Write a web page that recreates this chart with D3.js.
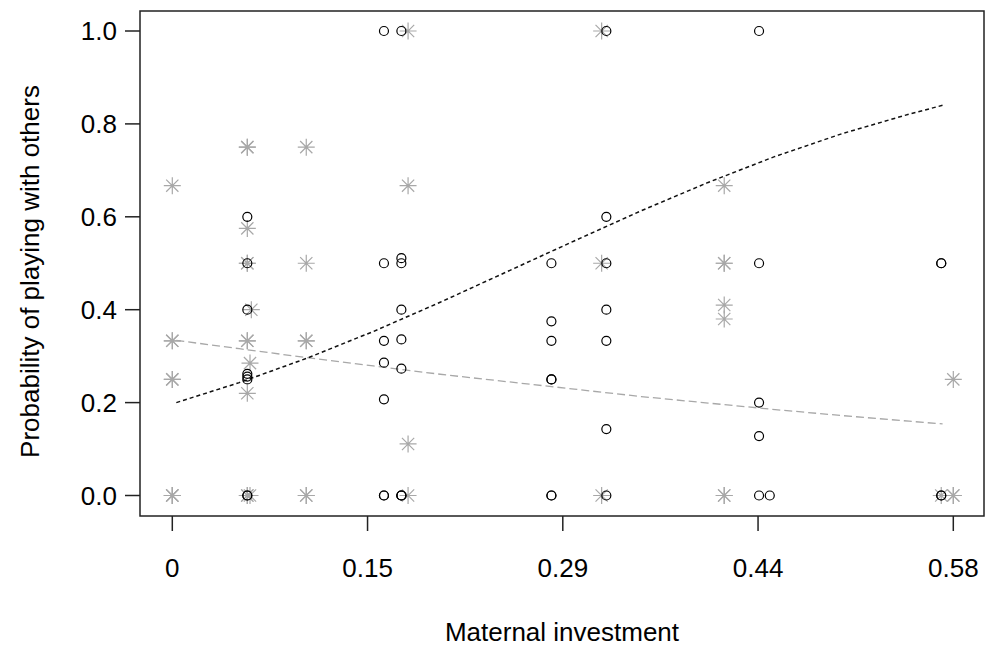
<!DOCTYPE html>
<html>
<head>
<meta charset="utf-8">
<script src="https://cdn.jsdelivr.net/npm/d3@7"></script>
<style>
  body { margin: 0; background: #fff; }
  text { font-family: "Liberation Sans", Arial, sans-serif; fill: #000; }
</style>
</head>
<body>
<div id="container"></div>
<script>
var w = 990
var h = 646

// circles (black, open)
var circleX = [0.056, 0.056, 0.056, 0.056, 0.056, 0.056, 0.056, 0.056,
    0.158, 0.158, 0.158, 0.158, 0.158, 0.158, 0.158,
    0.171, 0.171, 0.171, 0.171, 0.171, 0.171, 0.171, 0.171, 0.171,
    0.283, 0.283, 0.283, 0.283, 0.283, 0.283, 0.283,
    0.324, 0.324, 0.324, 0.324, 0.324, 0.324, 0.324,
    0.438, 0.438, 0.438, 0.438, 0.438, 0.446,
    0.574, 0.574, 0.574, 0.574]
var circleY = [0.6, 0.5, 0.4, 0.25, 0.256, 0.262, 0, 0,
    1, 0.5, 0.333, 0.286, 0.207, 0, 0,
    1, 0.5, 0.511, 0.4, 0.336, 0.273, 0, 0, 0,
    0.5, 0.375, 0.333, 0.25, 0.25, 0, 0,
    1, 0.6, 0.5, 0.4, 0.333, 0.143, 0,
    1, 0.5, 0.2, 0.128, 0, 0,
    0.5, 0.5, 0, 0]

// asterisks (grey)
var starX = [0, 0, 0, 0, 0, 0, 0, 0,
    0.056, 0.056, 0.056, 0.056, 0.056, 0.056, 0.056, 0.056, 0.056, 0.056,
    0.058, 0.058, 0.059,
    0.100, 0.100, 0.100, 0.100, 0.100, 0.100,
    0.176, 0.176, 0.176, 0.176,
    0.3205, 0.3205, 0.3205,
    0.412, 0.412, 0.412, 0.412, 0.412, 0.412, 0.412,
    0.574, 0.583, 0.583, 0.583]
var starY = [0.667, 0.333, 0.333, 0.25, 0.25, 0, 0, 0,
    0.75, 0.75, 0.575, 0.5, 0.5, 0.333, 0.333, 0.22, 0, 0,
    0.285, 0, 0.4,
    0.75, 0.5, 0.333, 0.333, 0, 0,
    1, 0.667, 0.111, 0,
    1, 0.5, 0,
    0.667, 0.5, 0.5, 0.41, 0.38, 0, 0,
    0, 0.25, 0, 0]

// fitted curves
var curveX = [0.003, 0.05, 0.1, 0.15, 0.2, 0.25, 0.3, 0.35, 0.4, 0.45, 0.5, 0.55, 0.575]
var fitBlack = [0.200, 0.243, 0.295, 0.353, 0.416, 0.482, 0.548, 0.613, 0.674, 0.730, 0.779, 0.821, 0.840]
var fitGrey = [0.334, 0.316, 0.297, 0.279, 0.261, 0.245, 0.229, 0.213, 0.199, 0.185, 0.172, 0.160, 0.154]

var xTicks = [0, 0.14575, 0.2915, 0.43725, 0.583]
var xTickLabels = ["0", "0.15", "0.29", "0.44", "0.58"]
var yTicks = [0, 0.2, 0.4, 0.6, 0.8, 1]
var yTickLabels = ["0.0", "0.2", "0.4", "0.6", "0.8", "1.0"]

var box = { left: 140, top: 11, right: 984, bottom: 516 }

var svg = d3.select("#container").append("svg")
    .attr("width", w)
    .attr("height", h)
    .attr("viewBox", "0 0 " + w + " " + h)

var x = d3.scaleLinear().domain([0, 0.583]).range([172.3, 953.3])
var y = d3.scaleLinear().domain([0, 1]).range([495.5, 31])

var grey = "#a8a8a8"

// lines
var line = d3.line()
    .x(function (d) { return x(d[0]) })
    .y(function (d) { return y(d[1]) })

svg.append("path")
    .datum(d3.zip(curveX, fitGrey))
    .attr("d", line)
    .attr("fill", "none")
    .attr("stroke", grey)
    .attr("stroke-width", 1.3)
    .attr("stroke-dasharray", "8,4")

svg.append("path")
    .datum(d3.zip(curveX, fitBlack))
    .attr("d", line)
    .attr("fill", "none")
    .attr("stroke", "#111")
    .attr("stroke-width", 1.5)
    .attr("stroke-dasharray", "4,3")

// asterisks
var s = 8.5
var stars = svg.append("g")
    .selectAll("path")
    .data(d3.zip(starX, starY))
    .enter()
    .append("path")
    .attr("transform", function (d) { return "translate(" + x(d[0]) + "," + y(d[1]) + ")" })
    .attr("d", "M" + -s + ",0H" + s + "M0," + -s + "V" + s +
        "M" + (-s * 0.72) + "," + (-s * 0.72) + "L" + (s * 0.72) + "," + (s * 0.72) +
        "M" + (-s * 0.72) + "," + (s * 0.72) + "L" + (s * 0.72) + "," + (-s * 0.72))
    .attr("stroke", grey)
    .attr("stroke-width", 1.2)
    .attr("fill", "none")

// circles
svg.append("g")
    .selectAll("circle")
    .data(d3.zip(circleX, circleY))
    .enter()
    .append("circle")
    .attr("cx", function (d) { return x(d[0]) })
    .attr("cy", function (d) { return y(d[1]) })
    .attr("r", 4.5)
    .attr("fill", "none")
    .attr("stroke", "#000")
    .attr("stroke-width", 1.2)

// box
svg.append("rect")
    .attr("x", box.left)
    .attr("y", box.top)
    .attr("width", box.right - box.left)
    .attr("height", box.bottom - box.top)
    .attr("fill", "none")
    .attr("stroke", "#222")
    .attr("stroke-width", 1.5)

// x axis
var xAxis = svg.append("g")
xAxis.selectAll("line")
    .data(xTicks)
    .enter()
    .append("line")
    .attr("x1", function (d) { return x(d) })
    .attr("x2", function (d) { return x(d) })
    .attr("y1", box.bottom)
    .attr("y2", box.bottom + 15)
    .attr("stroke", "#222")
    .attr("stroke-width", 1.5)
xAxis.selectAll("text")
    .data(xTicks)
    .enter()
    .append("text")
    .attr("x", function (d) { return x(d) })
    .attr("y", 577)
    .attr("text-anchor", "middle")
    .style("font-size", "26px")
    .text(function (d, i) { return xTickLabels[i] })

// y axis
var yAxis = svg.append("g")
yAxis.selectAll("line")
    .data(yTicks)
    .enter()
    .append("line")
    .attr("x1", box.left - 15)
    .attr("x2", box.left)
    .attr("y1", function (d) { return y(d) })
    .attr("y2", function (d) { return y(d) })
    .attr("stroke", "#222")
    .attr("stroke-width", 1.5)
yAxis.selectAll("text")
    .data(yTicks)
    .enter()
    .append("text")
    .attr("x", 117)
    .attr("y", function (d) { return y(d) })
    .attr("dy", "0.35em")
    .attr("text-anchor", "end")
    .style("font-size", "26px")
    .text(function (d, i) { return yTickLabels[i] })

// titles
svg.append("text")
    .attr("x", (box.left + box.right) / 2)
    .attr("y", 641)
    .attr("text-anchor", "middle")
    .style("font-size", "26px")
    .text("Maternal investment")

svg.append("text")
    .attr("transform", "translate(39," + ((box.top + box.bottom) / 2 + 8) + ") rotate(-90)")
    .attr("text-anchor", "middle")
    .style("font-size", "26px")
    .text("Probability of playing with others")
</script>
</body>
</html>
